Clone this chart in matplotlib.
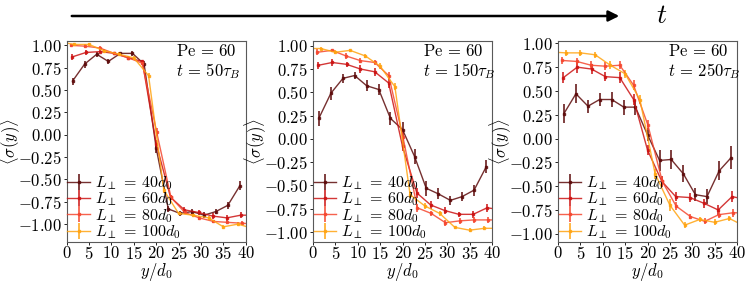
import matplotlib.pyplot as plt
from matplotlib.ticker import MultipleLocator

plt.rcParams['font.family'] = 'serif'
plt.rcParams['font.serif'] = ['cmr10', 'DejaVu Serif']
plt.rcParams['mathtext.fontset'] = 'cm'
plt.rcParams['axes.formatter.use_mathtext'] = True

# bin centres (y/d0) for each system size
x40 = [1.3, 4.0, 6.7, 9.3, 12.0, 14.7, 17.3, 20.0, 22.7, 25.3, 28.0, 30.7, 33.3, 36.0, 38.7]
x60 = [1.2, 4.3, 7.5, 10.6, 13.8, 16.9, 20.0, 23.2, 26.3, 29.5, 32.6, 35.8, 38.9, 42.0]
x80 = [1.0, 4.2, 7.4, 10.6, 13.8, 16.9, 20.1, 23.3, 26.4, 29.6, 32.8, 35.9, 39.1, 42.2]
x100 = [-1.7, 1.7, 5.0, 8.3, 11.7, 15.0, 18.3, 21.7, 25.0, 28.3, 31.7, 35.0, 38.3, 41.7]

times = [50, 150, 250]

# <sigma(y)> at t = 50, 150, 250 tau_B
s40 = [
    [0.60, 0.79, 0.90, 0.82, 0.91, 0.91, 0.79, -0.15, -0.83, -0.88, -0.86, -0.90, -0.86, -0.79, -0.57],
    [0.22, 0.49, 0.65, 0.68, 0.57, 0.53, 0.22, 0.10, -0.19, -0.53, -0.59, -0.66, -0.62, -0.55, -0.30],
    [0.26, 0.47, 0.34, 0.41, 0.41, 0.33, 0.33, 0.04, -0.23, -0.22, -0.37, -0.59, -0.61, -0.34, -0.20],
]
e40 = [
    [0.04, 0.04, 0.03, 0.03, 0.02, 0.03, 0.03, 0.05, 0.03, 0.03, 0.03, 0.03, 0.03, 0.04, 0.05],
    [0.08, 0.07, 0.05, 0.04, 0.06, 0.06, 0.07, 0.08, 0.08, 0.08, 0.06, 0.05, 0.05, 0.06, 0.07],
    [0.10, 0.10, 0.07, 0.07, 0.08, 0.08, 0.08, 0.07, 0.11, 0.10, 0.09, 0.07, 0.08, 0.10, 0.12],
]
s60 = [
    [0.87, 0.92, 0.93, 0.91, 0.86, 0.82, -0.10, -0.70, -0.84, -0.87, -0.91, -0.93, -0.90, -0.90],
    [0.79, 0.82, 0.80, 0.75, 0.72, 0.60, -0.08, -0.58, -0.71, -0.77, -0.81, -0.81, -0.74, -0.76],
    [0.64, 0.75, 0.73, 0.65, 0.64, 0.41, -0.12, -0.45, -0.61, -0.62, -0.68, -0.75, -0.61, -0.64],
]
e60 = [
    [0.03, 0.03, 0.02, 0.02, 0.02, 0.02, 0.04, 0.03, 0.03, 0.03, 0.03, 0.03, 0.03, 0.03],
    [0.04, 0.04, 0.03, 0.04, 0.04, 0.05, 0.05, 0.05, 0.04, 0.04, 0.03, 0.04, 0.04, 0.04],
    [0.06, 0.06, 0.05, 0.05, 0.06, 0.06, 0.05, 0.06, 0.05, 0.05, 0.05, 0.05, 0.06, 0.06],
]
s80 = [
    [1.00, 0.99, 0.97, 0.91, 0.86, 0.80, 0.03, -0.70, -0.87, -0.93, -0.97, -0.98, -0.99, -1.00],
    [0.93, 0.95, 0.89, 0.84, 0.82, 0.68, 0.02, -0.74, -0.80, -0.90, -0.88, -0.87, -0.87, -0.87],
    [0.82, 0.81, 0.77, 0.76, 0.77, 0.56, 0.14, -0.45, -0.71, -0.82, -0.87, -0.80, -0.78, -0.78],
]
e80 = [
    [0.02, 0.02, 0.02, 0.02, 0.02, 0.02, 0.04, 0.03, 0.02, 0.02, 0.02, 0.02, 0.02, 0.02],
    [0.03, 0.02, 0.03, 0.03, 0.03, 0.04, 0.05, 0.04, 0.03, 0.03, 0.03, 0.03, 0.03, 0.03],
    [0.04, 0.04, 0.04, 0.04, 0.04, 0.05, 0.05, 0.05, 0.04, 0.03, 0.03, 0.04, 0.04, 0.04],
]
s100 = [
    [1.04, 1.01, 1.01, 0.94, 0.90, 0.86, 0.66, -0.62, -0.88, -0.90, -0.93, -1.03, -1.00, -1.05],
    [0.97, 0.97, 0.93, 0.95, 0.89, 0.78, 0.56, -0.60, -0.72, -0.80, -0.95, -0.98, -0.96, -0.96],
    [0.91, 0.90, 0.90, 0.88, 0.77, 0.68, 0.41, -0.37, -0.70, -0.91, -0.85, -0.88, -0.84, -0.92],
]
e100 = [
    [0.02, 0.02, 0.02, 0.02, 0.02, 0.02, 0.03, 0.03, 0.02, 0.02, 0.02, 0.02, 0.02, 0.02],
    [0.02, 0.02, 0.02, 0.02, 0.02, 0.03, 0.04, 0.04, 0.03, 0.03, 0.02, 0.02, 0.02, 0.02],
    [0.03, 0.03, 0.03, 0.03, 0.04, 0.04, 0.05, 0.05, 0.06, 0.03, 0.03, 0.03, 0.03, 0.03],
]

labels = [r'$L_\perp\,=\,40d_0$', r'$L_\perp\,=\,60d_0$', r'$L_\perp\,=\,80d_0$', r'$L_\perp\,=\,100d_0$']
colors = ['#5e0c0c', '#cc1414', '#f5472f', '#ffa412']
ylims = [(-1.2, 1.054), (-1.107, 1.056), (-1.087, 1.03)]
lefts = [66.7, 313, 558]
fs = 12

fig = plt.figure(figsize=(7.47, 2.82), dpi=100)

for k in range(3):
    ax = fig.add_axes([lefts[k] / 747, 40 / 282, 179 / 747, 201.5 / 282])
    series = [(x40, s40[k], e40[k]), (x60, s60[k], e60[k]),
              (x80, s80[k], e80[k]), (x100, s100[k], e100[k])]
    for (xs, ys, es), c, lab in zip(series, colors, labels):
        ax.errorbar(xs, ys, yerr=es, color=c, ecolor=c, elinewidth=1.3,
                    lw=1.0, marker='s', ms=1.8, capsize=0, alpha=0.85, label=lab)
    ax.set_xlim(0, 40)
    ax.set_ylim(*ylims[k])
    ax.xaxis.set_major_locator(MultipleLocator(5))
    ax.yaxis.set_major_locator(MultipleLocator(0.25))
    ax.tick_params(labelsize=fs, length=2, width=0.6, pad=1.5)
    ax.tick_params(axis='x', pad=0.5)
    for sp in ax.spines.values():
        sp.set_linewidth(0.8)
        sp.set_color('0.35')
    ax.set_xlabel(r'$y/d_0$', fontsize=fs)
    ax.xaxis.set_label_coords(0.5, -0.093, transform=ax.transAxes)
    ax.set_ylabel(r'$\langle\sigma(y)\rangle$', fontsize=fs)
    ax.yaxis.set_label_coords(-0.25, 0.5, transform=ax.transAxes)
    ax.text(0.613, 0.99, r'$\mathrm{Pe}\,=\,60$' + '\n' + r'$t\,=\,%d\tau_B$' % times[k],
            transform=ax.transAxes, ha='left', va='top', fontsize=fs, linespacing=1.15)
    ax.legend(loc='lower left', frameon=False, fontsize=11.5, handlelength=1.4,
              handletextpad=0.3, labelspacing=-0.08, borderpad=0.05, borderaxespad=0.0)

# time arrow across the top
fig.add_artist(plt.Annotation('', xy=(622 / 747, 1 - 16 / 282), xytext=(69 / 747, 1 - 16 / 282),
                              xycoords='figure fraction', textcoords='figure fraction',
                              arrowprops=dict(arrowstyle='-|>', lw=1.8, color='k', mutation_scale=16)))
fig.text(662 / 747, 1 - 16 / 282, r'$t$', fontsize=20, ha='center', va='center')

fig.savefig('out.png', dpi=100)
